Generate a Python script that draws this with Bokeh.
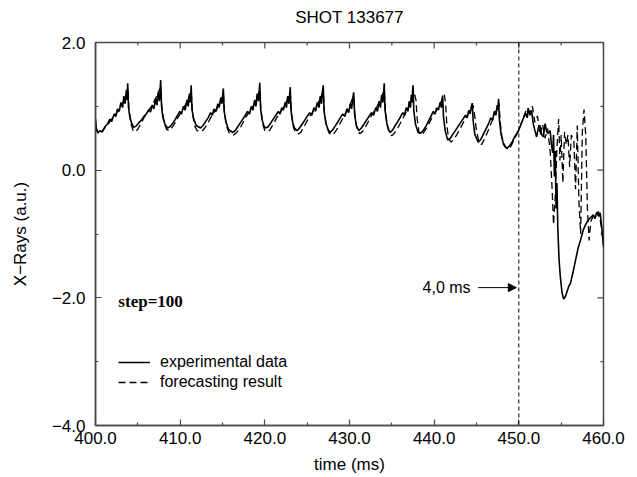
import math
from bokeh.plotting import figure
from bokeh.models import (Range1d, FixedTicker, Span, Label, Arrow,
                          NormalHead, Legend, LegendItem)
from bokeh.embed import file_html
from bokeh.resources import INLINE

# ---------------- data ----------------
title_text = "SHOT 133677"
x_label = "time (ms)"
y_label = "X\u2212Rays (a.u.)"
x_major = [400, 410, 420, 430, 440, 450, 460]
x_minor = [405, 415, 425, 435, 445, 455]
x_tick_labels = ["400.0", "410.0", "420.0", "430.0", "440.0", "450.0", "460.0"]
y_major = [2, 0, -2, -4]
y_minor = [1, -1, -3]
y_tick_labels = ["2.0", "0.0", "\u22122.0", "\u22124.0"]

experimental = [
    (400.0, 0.80), (400.1, 0.64), (400.3, 0.58), (400.5, 0.62), (400.8, 0.60),
    (401.1, 0.68), (401.4, 0.72), (401.7, 0.80), (401.9, 0.76), (402.2, 0.88),
    (402.4, 0.84), (402.6, 0.96), (402.8, 0.92), (403.0, 1.06), (403.2, 0.98),
    (403.35, 1.16), (403.5, 1.04), (403.65, 1.26), (403.75, 1.10), (403.8, 1.36),
    (403.9, 0.98), (404.05, 0.84), (404.25, 0.74), (404.5, 0.67),
    (404.8, 0.69), (405.1, 0.74), (405.4, 0.78), (405.7, 0.84), (406.0, 0.88),
    (406.3, 0.95), (406.5, 0.91), (406.7, 1.02), (406.9, 0.96), (407.1, 1.12),
    (407.25, 1.02), (407.4, 1.22), (407.55, 1.08), (407.65, 1.30), (407.7, 1.41),
    (407.8, 1.00), (407.95, 0.84), (408.2, 0.72), (408.5, 0.66),
    (408.8, 0.68), (409.1, 0.73), (409.4, 0.79), (409.7, 0.86), (409.95, 0.92),
    (410.15, 0.88), (410.4, 1.00), (410.6, 0.94), (410.8, 1.10), (410.95, 1.00),
    (411.1, 1.20), (411.2, 1.06), (411.3, 1.33), (411.4, 0.95), (411.6, 0.80),
    (411.9, 0.70), (412.4, 0.66),
    (412.7, 0.70), (413.0, 0.76), (413.3, 0.82), (413.6, 0.90), (413.8, 0.86),
    (414.0, 0.96), (414.25, 0.92), (414.45, 1.04), (414.6, 0.98), (414.8, 1.14),
    (414.95, 1.04), (415.05, 1.22), (415.1, 1.28), (415.2, 0.92), (415.4, 0.76),
    (415.7, 0.64), (416.2, 0.59),
    (416.5, 0.62), (416.8, 0.68), (417.1, 0.74), (417.4, 0.80), (417.7, 0.86),
    (417.95, 0.92), (418.2, 0.88), (418.4, 1.00), (418.6, 0.94), (418.8, 1.10),
    (418.95, 1.00), (419.1, 1.20), (419.25, 1.08), (419.35, 1.28), (419.4, 1.37),
    (419.5, 0.96), (419.7, 0.78), (419.9, 0.69), (420.1, 0.66),
    (420.4, 0.68), (420.7, 0.74), (421.0, 0.80), (421.3, 0.86), (421.6, 0.92),
    (421.8, 0.88), (422.0, 0.98), (422.2, 0.94), (422.4, 1.06), (422.55, 0.98),
    (422.7, 1.16), (422.85, 1.04), (422.95, 1.22), (423.0, 1.30), (423.1, 0.92),
    (423.3, 0.74), (423.5, 0.66), (423.8, 0.62),
    (424.1, 0.66), (424.4, 0.72), (424.7, 0.78), (425.0, 0.84), (425.3, 0.90),
    (425.55, 0.86), (425.8, 0.98), (426.0, 0.92), (426.2, 1.06), (426.4, 0.98),
    (426.55, 1.16), (426.7, 1.04), (426.8, 1.24), (426.9, 1.33), (427.0, 0.92),
    (427.2, 0.74), (427.45, 0.64), (427.7, 0.59),
    (428.0, 0.63), (428.3, 0.69), (428.6, 0.75), (428.9, 0.82), (429.2, 0.88),
    (429.45, 0.84), (429.7, 0.96), (429.9, 0.90), (430.1, 1.04), (430.25, 0.96),
    (430.4, 1.14), (430.5, 1.22), (430.6, 0.88), (430.8, 0.70), (431.1, 0.62),
    (431.4, 0.66), (431.7, 0.72), (432.0, 0.78), (432.3, 0.84), (432.6, 0.90),
    (432.85, 0.86), (433.1, 0.98), (433.3, 0.92), (433.5, 1.08), (433.65, 0.98),
    (433.8, 1.18), (433.95, 1.06), (434.05, 1.26), (434.1, 1.36), (434.2, 0.94),
    (434.4, 0.74), (434.6, 0.64), (434.8, 0.59),
    (435.1, 0.63), (435.4, 0.70), (435.7, 0.76), (436.0, 0.83), (436.3, 0.90),
    (436.5, 0.86), (436.7, 0.98), (436.9, 0.92), (437.05, 1.08), (437.2, 0.98),
    (437.3, 1.18), (437.4, 1.06), (437.45, 1.24), (437.5, 1.33), (437.6, 0.92),
    (437.8, 0.72), (438.1, 0.59),
    (438.4, 0.58), (438.7, 0.62), (439.0, 0.68), (439.3, 0.76), (439.6, 0.84),
    (439.9, 0.92), (440.1, 0.88), (440.3, 0.98), (440.5, 0.94), (440.7, 1.06),
    (440.85, 0.98), (440.95, 1.12), (441.0, 1.17), (441.1, 0.84), (441.3, 0.62),
    (441.6, 0.47),
    (441.9, 0.50), (442.2, 0.56), (442.5, 0.62), (442.8, 0.68), (443.1, 0.74),
    (443.4, 0.80), (443.7, 0.86), (443.9, 0.82), (444.1, 0.94), (444.25, 0.88),
    (444.4, 1.00), (444.5, 1.05), (444.6, 0.78), (444.8, 0.56), (445.2, 0.44),
    (445.5, 0.48), (445.8, 0.56), (446.1, 0.64), (446.4, 0.72), (446.7, 0.82),
    (446.9, 0.78), (447.1, 0.92), (447.3, 0.86), (447.45, 1.02), (447.55, 0.94),
    (447.6, 1.12), (447.7, 0.80), (447.9, 0.56), (448.2, 0.40), (448.6, 0.34),
    (448.9, 0.38), (449.2, 0.44), (449.5, 0.52), (449.9, 0.60), (450.2, 0.70),
    (450.5, 0.80), (450.8, 0.89), (451.0, 0.82), (451.1, 0.97), (451.3, 0.86),
    (451.5, 0.94), (451.7, 0.73), (451.9, 0.62), (452.1, 0.52), (452.3, 0.66),
    (452.5, 0.70), (452.7, 0.56), (452.9, 0.52), (453.1, 0.73), (453.3, 0.60),
    (453.5, 0.58), (453.7, 0.62), (453.85, 0.40), (454.0, 0.27), (454.1, 0.55),
    (454.2, -0.10), (454.3, 0.30), (454.4, -0.60), (454.5, -0.20), (454.6, -0.89),
    (454.75, -1.40), (454.9, -1.67), (455.1, -1.92), (455.3, -2.02), (455.5, -1.98),
    (455.7, -1.90), (455.9, -1.82), (456.1, -1.77), (456.4, -1.60), (456.7, -1.41),
    (457.0, -1.22), (457.3, -1.09), (457.6, -0.94), (457.9, -0.85), (458.2, -0.78),
    (458.5, -0.74), (458.8, -0.70), (459.0, -0.76), (459.2, -0.66), (459.4, -0.72),
    (459.6, -0.67), (459.8, -0.90), (460.0, -1.20),
]

forecast = [
    (400.0, 0.70), (400.3, 0.58), (400.7, 0.60), (401.1, 0.66), (401.5, 0.72),
    (401.9, 0.80), (402.3, 0.86), (402.7, 0.94), (403.1, 1.02), (403.4, 1.10),
    (403.7, 1.20), (403.85, 1.28), (403.95, 0.96), (404.2, 0.72), (404.45, 0.62),
    (404.7, 0.60),
    (405.0, 0.64), (405.4, 0.74), (405.8, 0.84), (406.2, 0.92), (406.6, 1.00),
    (407.0, 1.10), (407.3, 1.18), (407.55, 1.26), (407.7, 1.30), (407.85, 0.96),
    (408.1, 0.74), (408.4, 0.64), (408.7, 0.62),
    (409.0, 0.66), (409.4, 0.74), (409.8, 0.84), (410.2, 0.92), (410.6, 1.02),
    (410.9, 1.10), (411.15, 1.18), (411.3, 1.24), (411.45, 0.90), (411.7, 0.70),
    (412.0, 0.62), (412.5, 0.60),
    (412.8, 0.64), (413.2, 0.72), (413.6, 0.82), (414.0, 0.90), (414.4, 0.98),
    (414.7, 1.06), (414.95, 1.14), (415.1, 1.20), (415.25, 0.88), (415.5, 0.68),
    (415.8, 0.58), (416.3, 0.55),
    (416.6, 0.58), (417.0, 0.64), (417.4, 0.74), (417.8, 0.84), (418.2, 0.92),
    (418.6, 1.00), (418.95, 1.10), (419.2, 1.18), (419.4, 1.26), (419.55, 0.92),
    (419.8, 0.70), (420.0, 0.62), (420.3, 0.60),
    (420.6, 0.63), (421.0, 0.72), (421.4, 0.82), (421.8, 0.90), (422.2, 0.98),
    (422.5, 1.06), (422.8, 1.14), (423.0, 1.22), (423.15, 0.88), (423.4, 0.66),
    (423.7, 0.58), (424.0, 0.57),
    (424.3, 0.60), (424.7, 0.70), (425.1, 0.80), (425.5, 0.88), (425.9, 0.96),
    (426.3, 1.06), (426.6, 1.14), (426.9, 1.24), (427.05, 0.90), (427.3, 0.68),
    (427.6, 0.58), (427.9, 0.55),
    (428.2, 0.58), (428.6, 0.66), (429.0, 0.76), (429.4, 0.86), (429.8, 0.96),
    (430.1, 1.04), (430.35, 1.12), (430.5, 1.14), (430.65, 0.84), (430.9, 0.64),
    (431.2, 0.57),
    (431.5, 0.60), (431.9, 0.68), (432.3, 0.78), (432.7, 0.88), (433.1, 0.96),
    (433.5, 1.06), (433.8, 1.14), (434.1, 1.26), (434.25, 0.90), (434.5, 0.68),
    (434.8, 0.56), (435.0, 0.54),
    (435.3, 0.58), (435.7, 0.66), (436.1, 0.76), (436.5, 0.86), (436.9, 0.96),
    (437.2, 1.06), (437.45, 1.16), (437.6, 1.24), (437.85, 1.10), (438.0, 0.80),
    (438.2, 0.60), (438.4, 0.55),
    (438.7, 0.58), (439.1, 0.66), (439.5, 0.76), (439.9, 0.86), (440.3, 0.94),
    (440.7, 1.04), (441.0, 1.12), (441.2, 1.18), (441.35, 1.05), (441.5, 0.70),
    (441.7, 0.50), (442.0, 0.44),
    (442.3, 0.48), (442.7, 0.56), (443.1, 0.66), (443.5, 0.76), (443.9, 0.86),
    (444.3, 0.96), (444.6, 1.02), (444.8, 0.84), (445.0, 0.62), (445.3, 0.44),
    (445.6, 0.40),
    (446.0, 0.50), (446.5, 0.66), (447.0, 0.82), (447.4, 0.96), (447.65, 1.06),
    (447.8, 0.76), (448.0, 0.52), (448.4, 0.36), (448.8, 0.32),
    (449.0, 0.36), (449.6, 0.52), (450.2, 0.70), (450.6, 0.85), (451.0, 0.98),
    (451.3, 0.90), (451.6, 1.00), (451.9, 0.75), (452.2, 0.85), (452.5, 0.55),
    (452.8, 0.72), (453.1, 0.50), (453.4, 0.65), (453.7, 0.30), (453.9, -0.20),
    (454.1, -0.85), (454.3, -0.40), (454.5, 0.35), (454.7, 0.80), (454.85, 0.15),
    (455.0, 0.55), (455.2, -0.20), (455.4, 0.60), (455.6, 0.40), (455.8, 0.55),
    (456.0, 0.05), (456.2, 0.55), (456.5, 0.45), (456.7, -0.30), (456.9, 0.70),
    (457.1, -0.50), (457.3, -1.00), (457.5, 0.60), (457.7, 0.95), (457.9, 0.55),
    (458.1, -0.60), (458.3, -1.10), (458.5, -0.80), (458.8, -0.72), (459.1, -0.68),
    (459.4, -0.65), (459.7, -0.85), (460.0, -1.15),
]

marker_time = 450.0
annot_text = "4,0 ms"
annot_pos = (444.3, -1.84)
arrow_from = (445.2, -1.84)
arrow_to = (449.7, -1.84)
step_text = "step=100"
step_pos = (402.7, -2.05)
legend_labels = ["experimental data", "forecasting result"]

# ---------------- figure ----------------
FONT = "Liberation Sans"
FRAME = "#4a4a4a"
X0, X1, Y0, Y1 = 400, 460, -4, 2

p = figure(width=637, height=477, output_backend="svg", toolbar_location=None,
           x_range=Range1d(X0, X1), y_range=Range1d(Y0, Y1),
           min_border_left=95, min_border_right=34, min_border_top=42,
           min_border_bottom=52)
p.background_fill_color = "white"
p.border_fill_color = "white"
p.outline_line_color = FRAME
p.outline_line_width = 1.5
p.grid.visible = False

# a blank second line (short line height) lifts the title a little higher
p.title.text = title_text + "\n\u00a0"
p.title.align = "center"
p.title.text_font = FONT
p.title.text_font_size = "17px"
p.title.text_line_height = 0.55
p.title.text_font_style = "normal"
p.title.text_color = "black"


def style_axis(ax, ticks, minor, labels):
    ax.ticker = FixedTicker(ticks=ticks, minor_ticks=minor)
    ax.major_tick_in = 6
    ax.major_tick_out = 0
    ax.minor_tick_in = 3
    ax.minor_tick_out = 0
    ax.major_tick_line_color = FRAME
    ax.minor_tick_line_color = FRAME
    ax.major_tick_line_width = 1.2
    ax.minor_tick_line_width = 1.2
    ax.axis_line_color = FRAME
    ax.axis_line_width = 1.5
    ax.major_label_overrides = {t: l for t, l in zip(ticks, labels)}
    ax.major_label_text_font = FONT
    ax.major_label_text_font_size = "17px"
    ax.major_label_text_color = "black"
    ax.axis_label_text_font = FONT
    ax.axis_label_text_font_size = "17px"
    ax.axis_label_text_font_style = "normal"
    ax.axis_label_text_color = "black"


xa = p.xaxis[0]
style_axis(xa, x_major, x_minor, x_tick_labels)
xa.axis_label = x_label
xa.major_label_standoff = 6
xa.axis_label_standoff = 8

ya = p.yaxis[0]
style_axis(ya, y_major, y_minor, y_tick_labels)
ya.axis_label = y_label
ya.major_label_standoff = 10
ya.axis_label_standoff = 19

# inward ticks on the top and right frame edges (screen-length rays)
p.ray(x=x_major, y=[Y1] * len(x_major), length=6, length_units="screen",
      angle=-math.pi / 2, line_color=FRAME, line_width=1.2)
p.ray(x=x_minor, y=[Y1] * len(x_minor), length=3, length_units="screen",
      angle=-math.pi / 2, line_color=FRAME, line_width=1.2)
p.ray(x=[X1] * len(y_major), y=y_major, length=6, length_units="screen",
      angle=math.pi, line_color=FRAME, line_width=1.2)
p.ray(x=[X1] * len(y_minor), y=y_minor, length=3, length_units="screen",
      angle=math.pi, line_color=FRAME, line_width=1.2)

exp_t = [a for a, b in experimental]
exp_v = [b for a, b in experimental]
fc_t = [a for a, b in forecast]
fc_v = [b for a, b in forecast]

r_fc = p.line(fc_t, fc_v, line_color="black", line_width=1.3, line_dash="7 4")
r_exp = p.line(exp_t, exp_v, line_color="black", line_width=1.6)

p.add_layout(Span(location=marker_time, dimension="height", line_color="black",
                  line_width=1, line_dash="4 3"))

p.add_layout(Arrow(end=NormalHead(size=8, fill_color="black", line_color="black"),
                   x_start=arrow_from[0], y_start=arrow_from[1],
                   x_end=arrow_to[0], y_end=arrow_to[1],
                   line_color="black", line_width=1))
p.add_layout(Label(x=annot_pos[0], y=annot_pos[1], text=annot_text,
                   text_align="right", text_baseline="middle",
                   text_font=FONT, text_font_size="16px", text_color="black"))
p.add_layout(Label(x=step_pos[0], y=step_pos[1], text=step_text,
                   text_align="left", text_baseline="middle",
                   text_font="Liberation Serif", text_font_style="bold",
                   text_font_size="17px", text_color="black"))

legend = Legend(items=[LegendItem(label=legend_labels[0], renderers=[r_exp]),
                       LegendItem(label=legend_labels[1], renderers=[r_fc])],
                location=(23, 33), border_line_color=None,
                background_fill_alpha=0, padding=0, margin=0, spacing=0,
                glyph_width=32, glyph_height=20, label_height=20,
                label_standoff=10, label_text_font=FONT,
                label_text_font_size="16px", label_text_color="black")
p.add_layout(legend)

open("out.html", "w").write(file_html(p, INLINE))
